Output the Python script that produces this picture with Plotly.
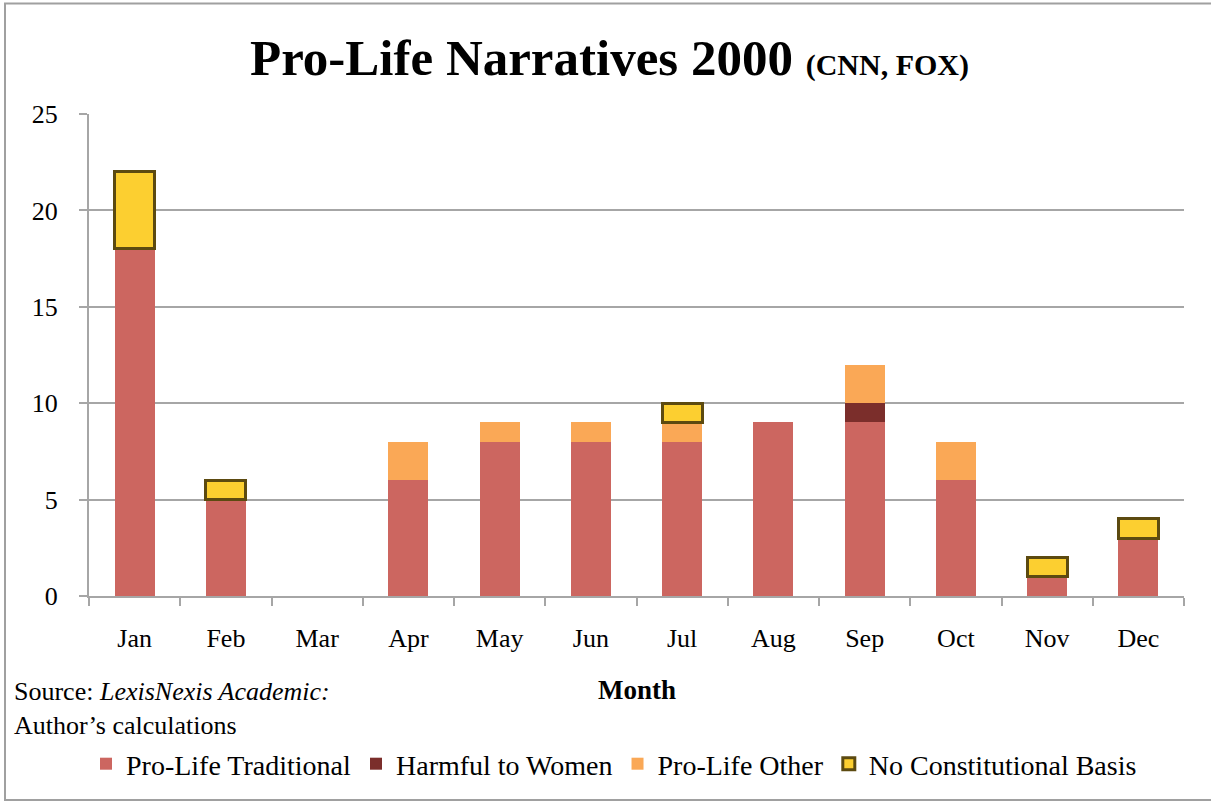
import plotly.graph_objects as go

months = ["Jan", "Feb", "Mar", "Apr", "May", "Jun", "Jul", "Aug", "Sep", "Oct", "Nov", "Dec"]
traditional = [18, 5, 0, 6, 8, 8, 8, 9, 9, 6, 1, 3]
harmful = [0, 0, 0, 0, 0, 0, 0, 0, 1, 0, 0, 0]
other = [0, 0, 0, 2, 1, 1, 1, 0, 2, 2, 0, 0]
no_const = [4, 1, 0, 0, 0, 0, 1, 0, 0, 0, 1, 1]
y_ticks = [0, 5, 10, 15, 20, 25]

FONT = "Liberation Serif"
GRID = "#A6A6A6"


def nz(vals):
    return [v if v else None for v in vals]


fig = go.Figure()
fig.add_trace(go.Bar(x=months, y=nz(traditional), name="Pro-Life Traditional",
                     marker=dict(color="#CC6660", line=dict(width=0))))
fig.add_trace(go.Bar(x=months, y=nz(harmful), name="Harmful to Women",
                     marker=dict(color="#7B2E2B", line=dict(width=0))))
fig.add_trace(go.Bar(x=months, y=nz(other), name="Pro-Life Other",
                     marker=dict(color="#FAA856", line=dict(width=0))))
fig.add_trace(go.Bar(x=months, y=nz(no_const), name="No Constitutional Basis",
                     marker=dict(color="#FCCF30", line=dict(width=3, color="#5C4A10"))))

W, H = 1211, 801
L, R, T, B = 89, 1184, 114, 596
pw, ph = R - L, B - T


def px(x):
    return (x - L) / pw


def py(y):
    return (B - y) / ph


fig.update_layout(
    width=W, height=H,
    barmode="stack",
    bargap=0.56,
    plot_bgcolor="white",
    paper_bgcolor="white",
    margin=dict(l=L, r=W - R, t=T, b=H - B, pad=0),
    font=dict(family=FONT, size=26, color="black"),
    showlegend=True,
    legend=dict(orientation="h", xref="container", yref="container",
                x=614 / W, xanchor="center", y=1 - 764 / H, yanchor="middle",
                font=dict(family=FONT, size=28, color="black"),
                itemwidth=30, traceorder="normal", bgcolor="rgba(0,0,0,0)"),
    xaxis=dict(showline=True, linecolor=GRID, linewidth=2,
               ticks="outside", tickson="boundaries", ticklen=8, tickcolor=GRID, tickwidth=2,
               tickfont=dict(family=FONT, size=26), ticklabelstandoff=18,
               showgrid=False),
    yaxis=dict(range=[0, 25], tickvals=y_ticks, showline=True, linecolor=GRID, linewidth=2,
               ticks="outside", ticklen=8, tickcolor=GRID, tickwidth=2,
               showgrid=True, gridcolor=GRID, gridwidth=2, zeroline=False,
               tickfont=dict(family=FONT, size=26), ticklabelstandoff=16),
    annotations=[
        dict(text="<b>Pro-Life Narratives 2000 <span style='font-size:30px'>(CNN, FOX)</span></b>",
             xref="paper", yref="paper", x=px(609), y=py(58), xanchor="center", yanchor="middle",
             showarrow=False, font=dict(family=FONT, size=51, color="black")),
        dict(text="<b>Month</b>", xref="paper", yref="paper", x=px(637), y=py(690),
             xanchor="center", yanchor="middle", showarrow=False,
             font=dict(family=FONT, size=27, color="black")),
        dict(text="Source: <i>LexisNexis Academic:</i><br>Author’s calculations",
             xref="paper", yref="paper", x=px(12), y=py(675), xanchor="left", yanchor="top",
             align="left", showarrow=False, font=dict(family=FONT, size=26, color="black")),
    ],
    shapes=[
        dict(type="rect", xref="paper", yref="paper", x0=px(5), x1=px(1230), y0=py(800), y1=py(3.5),
             line=dict(color="#A0A0A0", width=2), fillcolor="rgba(0,0,0,0)", layer="below"),
    ],
)

fig.write_html("out.html", config={"displayModeBar": False},
               post_script="document.body.style.margin='0';document.body.style.padding='0';")
